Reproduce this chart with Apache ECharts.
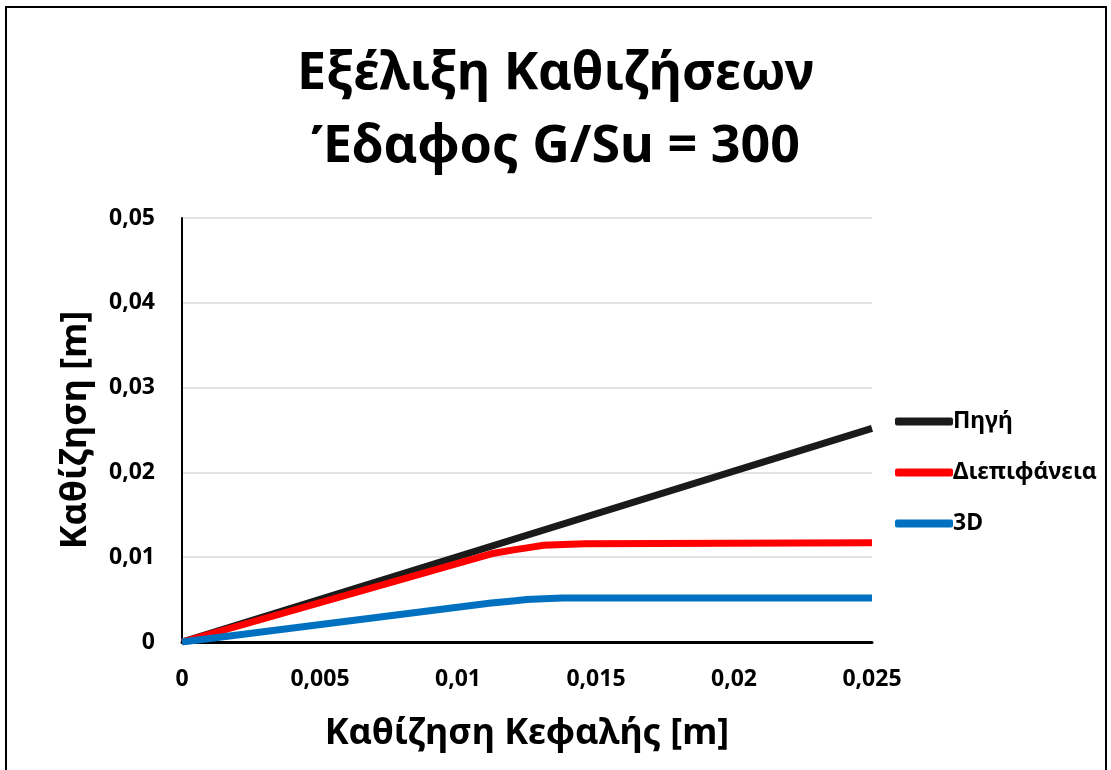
<!DOCTYPE html>
<html>
<head>
<meta charset="utf-8">
<script src="https://cdn.jsdelivr.net/npm/echarts@6/dist/echarts.min.js"></script>
<style>
html,body{margin:0;padding:0;background:#fff;}
#c{width:1111px;height:770px;}
</style>
</head>
<body>
<div id="c"></div>
<script>
// Data
const titleLines = ['Εξέλιξη Καθιζήσεων', 'Έδαφος G/Su = 300'];
const xAxisName = 'Καθίζηση Κεφαλής [m]';
const yAxisName = 'Καθίζηση [m]';
const seriesNames = ['Πηγή', 'Διεπιφάνεια', '3D'];
const seriesColors = ['#1a1a1a', '#ff0000', '#0070c0'];
const sourceX = [0, 0.025];
const sourceY = [0, 0.0252];
const interfaceX = [0, 0.0112, 0.0119, 0.0125, 0.0131, 0.0138, 0.0146, 0.025];
const interfaceY = [0, 0.0104, 0.0108, 0.0111, 0.0114, 0.0115, 0.0116, 0.0117];
const threeDX = [0, 0.0112, 0.0119, 0.0125, 0.0131, 0.0138, 0.0146, 0.025];
const threeDY = [0, 0.0046, 0.0048, 0.0050, 0.0051, 0.0052, 0.0052, 0.0052];

const pairs = (xs, ys) => xs.map((x, i) => [x, ys[i]]);
const fmt = v => String(+(+v).toFixed(4)).replace('.', ',');
const FONT = 'Noto Sans';

const chart = echarts.init(document.getElementById('c'), null, {renderer: 'canvas'});
chart.setOption({
  backgroundColor: '#fff',
  animation: false,
  title: {
    text: titleLines.join('\n'),
    left: 'center',
    top: 33,
    textStyle: {fontFamily: FONT, fontWeight: 'bold', fontSize: 52, lineHeight: 73, color: '#000'}
  },
  grid: {left: 182, right: 239, top: 218, bottom: 128, containLabel: false},
  legend: {
    orient: 'vertical',
    left: 890,
    top: 405,
    itemGap: 28,
    itemWidth: 58,
    itemHeight: 8,
    icon: 'roundRect',
    textStyle: {fontFamily: FONT, fontWeight: 'bold', fontSize: 23, color: '#000', padding: [0,0,0,-5]},
    data: seriesNames
  },
  xAxis: {
    type: 'value',
    min: 0, max: 0.025, interval: 0.005,
    name: xAxisName,
    nameLocation: 'middle',
    nameGap: 74,
    nameTextStyle: {fontFamily: FONT, fontWeight: 'bold', fontSize: 36, color: '#000'},
    axisLine: {show: true, onZero: false, lineStyle: {color: '#000', width: 3}},
    axisTick: {show: false},
    splitLine: {show: false},
    axisLabel: {formatter: fmt, margin: 26, fontFamily: FONT, fontWeight: 'bold', fontSize: 23, color: '#000'}
  },
  yAxis: {
    type: 'value',
    min: 0, max: 0.05, interval: 0.01,
    name: yAxisName,
    nameLocation: 'middle',
    nameGap: 88,
    nameTextStyle: {fontFamily: FONT, fontWeight: 'bold', fontSize: 36, color: '#000'},
    axisLine: {show: true, lineStyle: {color: '#000', width: 2}},
    axisTick: {show: false},
    splitLine: {show: true, lineStyle: {color: '#d9d9d9', width: 1.5}},
    axisLabel: {formatter: fmt, margin: 27, fontFamily: FONT, fontWeight: 'bold', fontSize: 23, color: '#000'}
  },
  graphic: [{
    type: 'rect',
    shape: {x: 6, y: 7, width: 1100, height: 800},
    style: {fill: 'none', stroke: '#000', lineWidth: 2},
    silent: true,
    z: 100
  }],
  series: [
    {name: seriesNames[0], type: 'line', data: pairs(sourceX, sourceY), showSymbol: false, symbol: 'none',
     lineStyle: {color: seriesColors[0], width: 7}, itemStyle: {color: seriesColors[0]}, z: 3},
    {name: seriesNames[1], type: 'line', data: pairs(interfaceX, interfaceY), showSymbol: false, symbol: 'none',
     lineStyle: {color: seriesColors[1], width: 7, join: 'round'}, itemStyle: {color: seriesColors[1]}, z: 4},
    {name: seriesNames[2], type: 'line', data: pairs(threeDX, threeDY), showSymbol: false, symbol: 'none',
     lineStyle: {color: seriesColors[2], width: 7, join: 'round'}, itemStyle: {color: seriesColors[2]}, z: 5}
  ]
});
</script>
</body>
</html>
